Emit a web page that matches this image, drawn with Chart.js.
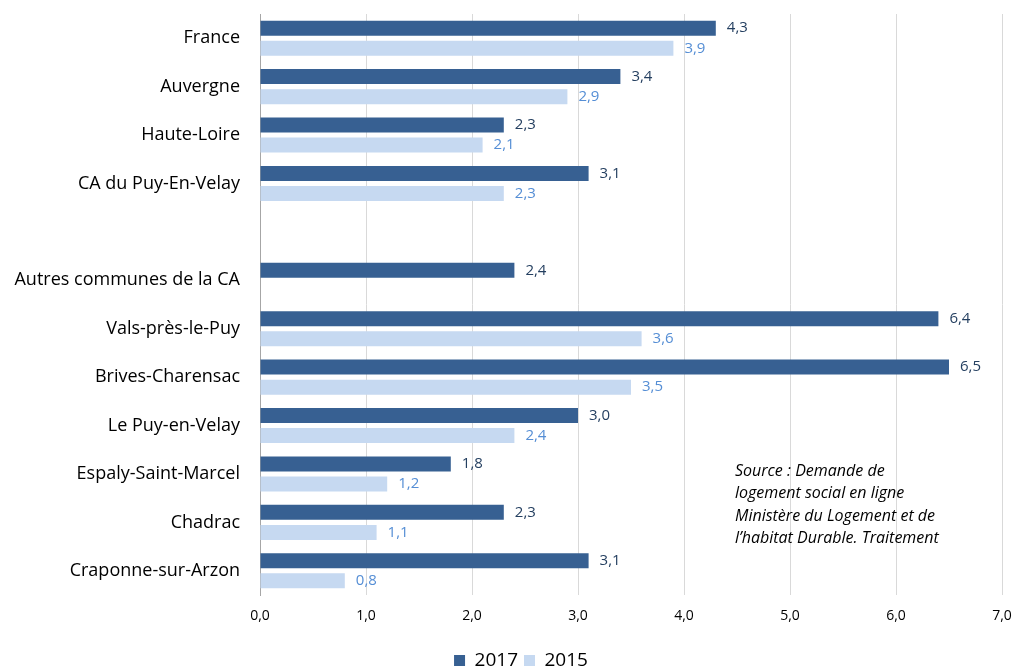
<!DOCTYPE html>
<html>
<head>
<meta charset="utf-8">
<script src="https://cdn.jsdelivr.net/npm/chart.js@4.4.0/dist/chart.umd.min.js"></script>
<style>
  html, body { margin: 0; padding: 0; background: #fff; }
  #wrap { width: 1014px; height: 668px; }
</style>
</head>
<body>
<div id="wrap"><canvas id="demandeChart" width="1014" height="668"></canvas></div>
<script>
const categories = [
  "France",
  "Auvergne",
  "Haute-Loire",
  "CA du Puy-En-Velay",
  "",
  "Autres communes de la CA",
  "Vals-près-le-Puy",
  "Brives-Charensac",
  "Le Puy-en-Velay",
  "Espaly-Saint-Marcel",
  "Chadrac",
  "Craponne-sur-Arzon",
];
const values2017 = [4.3, 3.4, 2.3, 3.1, null, 2.4, 6.4, 6.5, 3.0, 1.8, 2.3, 3.1];
const values2015 = [3.9, 2.9, 2.1, 2.3, null, null, 3.6, 3.5, 2.4, 1.2, 1.1, 0.8];
const xTicks = [0, 1, 2, 3, 4, 5, 6, 7];
const sourceLines = [
  "Source : Demande de",
  "logement social en ligne",
  "Ministère du Logement et de",
  "l’habitat Durable. Traitement",
];

const FONT = "'Open Sans', sans-serif";

function frNum(v) {
  return v.toFixed(1).replace(".", ",");
}

// value labels at the end of each bar
const barLabels = {
  id: "barLabels",
  afterDatasetsDraw(chart) {
    const ctx = chart.ctx;
    ctx.save();
    ctx.font = "15px " + FONT;
    ctx.textBaseline = "middle";
    ctx.textAlign = "left";
    chart.data.datasets.forEach((ds, i) => {
      const meta = chart.getDatasetMeta(i);
      meta.data.forEach((bar, j) => {
        const v = ds.data[j];
        if (v === null || v === undefined) return;
        ctx.fillStyle = ds.labelColor;
        ctx.fillText(frNum(v), bar.x + 11, bar.y);
      });
    });
    ctx.restore();
  },
};

// source note inside the plot
const sourceNote = {
  id: "sourceNote",
  afterDraw(chart) {
    const ctx = chart.ctx;
    const area = chart.chartArea;
    ctx.save();
    ctx.font = "italic 16px " + FONT;
    ctx.fillStyle = "#000";
    ctx.textBaseline = "middle";
    ctx.textAlign = "left";
    sourceLines.forEach((line, k) => {
      ctx.fillText(line, area.left + 475, area.top + 457 + k * 22.5);
    });
    ctx.restore();
  },
};

// legend in the original sits a bit right of the canvas centre
const legendShift = {
  id: "legendShift",
  afterLayout(chart) {
    if (chart.legend) {
      chart.legend.left += 40;
    }
  },
};

new Chart(document.getElementById("demandeChart"), {
  type: "bar",
  data: {
    labels: categories,
    datasets: [
      {
        label: "2017",
        data: values2017,
        backgroundColor: "#376092",
        labelColor: "#243f60",
        categoryPercentage: 0.83,
        barPercentage: 0.75,
      },
      {
        label: "2015",
        data: values2015,
        backgroundColor: "#c6d9f1",
        labelColor: "#558ed5",
        categoryPercentage: 0.83,
        barPercentage: 0.75,
      },
    ],
  },
  options: {
    indexAxis: "y",
    responsive: false,
    animation: false,
    layout: {
      padding: { top: 14, right: 12, left: 0, bottom: -12 },
    },
    scales: {
      x: {
        min: 0,
        max: 7,
        afterBuildTicks: (scale) => {
          scale.ticks = xTicks.map((v) => ({ value: v }));
        },
        ticks: {
          color: "#000",
          font: { family: FONT, size: 14 },
          padding: 13,
          callback: (v) => frNum(v),
        },
        grid: {
          color: "#d9d9d9",
          lineWidth: 1,
          drawTicks: false,
        },
        border: { display: false },
        afterFit: (scale) => {
          scale.height = 50;
          scale.paddingLeft = 0;
          scale.paddingRight = 0;
        },
      },
      y: {
        ticks: {
          color: "#000",
          font: { family: FONT, size: 18 },
          padding: 20,
        },
        grid: { display: false, drawTicks: false },
        border: { display: true, color: "#a6a6a6", width: 1 },
        afterFit: (scale) => {
          scale.width = 260;
          scale.paddingTop = 0;
          scale.paddingBottom = 0;
        },
      },
    },
    plugins: {
      legend: {
        position: "bottom",
        labels: {
          color: "#000",
          font: { family: FONT, size: 19 },
          boxWidth: 11,
          boxHeight: 11,
          padding: 6,
        },
      },
      tooltip: { enabled: false },
    },
  },
  plugins: [barLabels, sourceNote, legendShift],
});
</script>
</body>
</html>
